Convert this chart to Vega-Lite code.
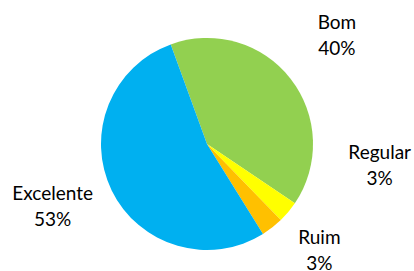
{
  "$schema": "https://vega.github.io/schema/vega-lite/v6.json",
  "width": 414,
  "height": 254,
  "padding": {"left": 0, "right": 0, "top": 17, "bottom": 0},
  "autosize": {"type": "none"},
  "background": "white",
  "view": {"stroke": null},
  "config": {"text": {"font": "Lato", "fontSize": 19, "lineHeight": 25.5, "align": "center", "baseline": "middle", "lineBreak": "\n"}},
  "data": {"values": [
    {"cat": "Bom", "value": 40.0, "ord": 1, "label": "Bom\n40%"},
    {"cat": "Regular", "value": 3.3, "ord": 2, "label": "Regular\n3%"},
    {"cat": "Ruim", "value": 3.4, "ord": 3, "label": "Ruim\n3%"},
    {"cat": "Excelente", "value": 53.3, "ord": 4, "label": "Excelente\n53%"}
  ]},
  "encoding": {
    "theta": {"field": "value", "type": "quantitative", "stack": true, "scale": {"range": [-0.349, 5.934]}},
    "order": {"field": "ord", "type": "quantitative"},
    "color": {"field": "cat", "type": "nominal", "scale": {"domain": ["Bom", "Regular", "Ruim", "Excelente"], "range": ["#92D050", "#FFFF00", "#FFC000", "#00B0F0"]}, "legend": null}
  },
  "layer": [
    {"mark": {"type": "arc", "outerRadius": 106}},
    {"mark": {"type": "text", "radius": 170, "dx": -4, "dy": -16},
     "encoding": {"color": {"value": "#000000"}, "detail": {"field": "cat"},
       "text": {"condition": {"test": "datum.cat === 'Bom'", "field": "label"}, "value": ""}}},
    {"mark": {"type": "text", "radius": 130, "dx": 73, "dy": -74},
     "encoding": {"color": {"value": "#000000"}, "detail": {"field": "cat"},
       "text": {"condition": {"test": "datum.cat === 'Regular'", "field": "label"}, "value": ""}}},
    {"mark": {"type": "text", "radius": 150, "dx": 20, "dy": -24},
     "encoding": {"color": {"value": "#000000"}, "detail": {"field": "cat"},
       "text": {"condition": {"test": "datum.cat === 'Ruim'", "field": "label"}, "value": ""}}},
    {"mark": {"type": "text", "radius": 165, "dx": -6, "dy": -22},
     "encoding": {"color": {"value": "#000000"}, "detail": {"field": "cat"},
       "text": {"condition": {"test": "datum.cat === 'Excelente'", "field": "label"}, "value": ""}}}
  ]
}
